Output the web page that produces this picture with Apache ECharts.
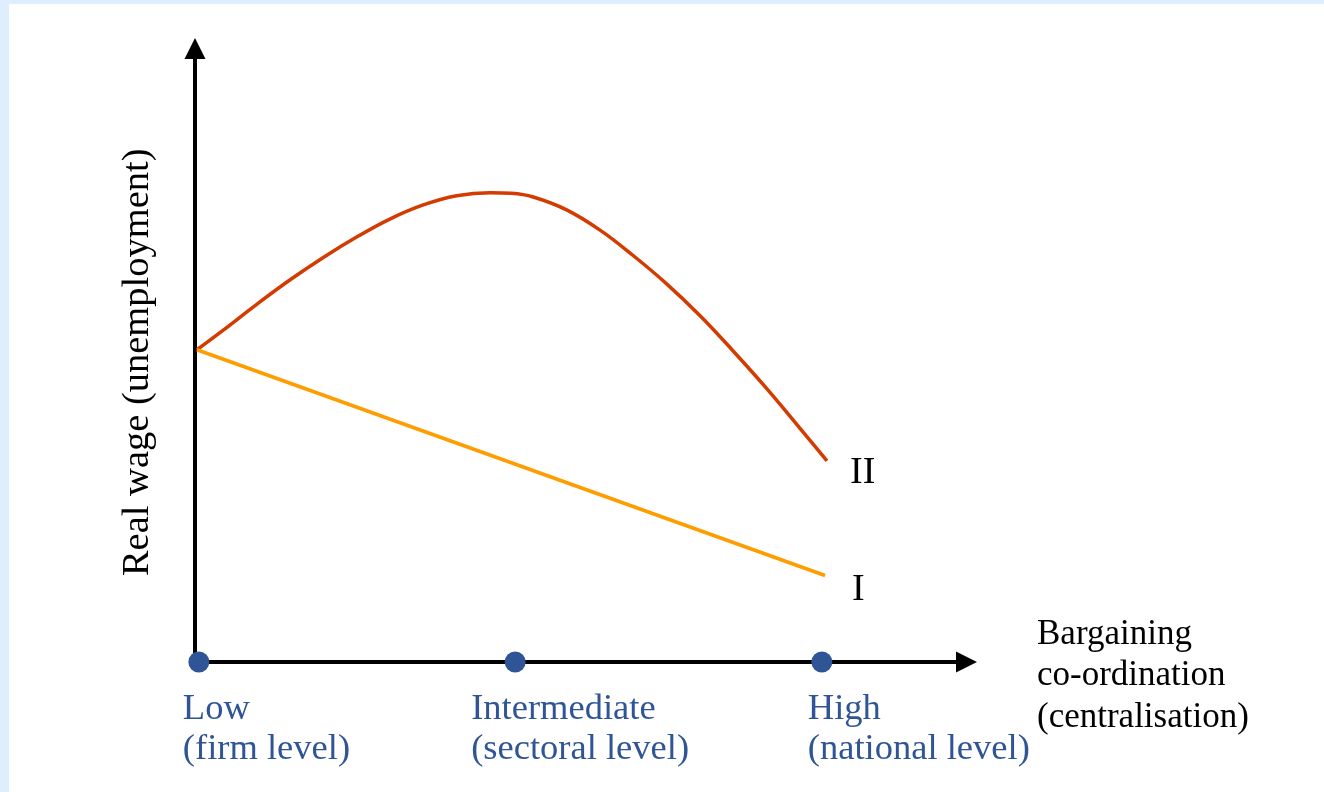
<!DOCTYPE html>
<html><head><meta charset="utf-8">
<script src="https://cdn.jsdelivr.net/npm/echarts@6/dist/echarts.min.js"></script>
<style>
html,body{margin:0;padding:0;background:#dfeefd;width:1324px;height:792px;overflow:hidden}
#chart{position:absolute;left:9px;top:4px;width:1315px;height:788px;background:#fff}
</style></head><body><div id="chart"></div>
<script>
// ---- data ----
const levelNames = ['Low\n(firm level)', 'Intermediate\n(sectoral level)', 'High\n(national level)'];
const levelX = [0.06, 4.98, 9.75];
const curveIIx = [0.03, 0.44, 0.96, 1.48, 1.99, 2.52, 3.03, 3.55, 4.07, 4.59, 4.92, 5.26, 5.78, 6.30, 6.81, 7.34, 7.86, 8.37, 8.89, 9.41, 9.83];
const curveIIy = [5.09, 5.41, 5.83, 6.23, 6.59, 6.93, 7.22, 7.45, 7.60, 7.65, 7.64, 7.58, 7.37, 7.04, 6.63, 6.16, 5.64, 5.07, 4.46, 3.81, 3.28];
const lineIx = [0.03, 9.80];
const lineIy = [5.09, 1.41];
const seriesNames = ['II', 'I'];
const xAxisName = 'Bargaining\nco-ordination\n(centralisation)';
const yAxisName = 'Real wage (unemployment)';

// ---- layout / style ----
const FONT = '"Liberation Serif", "Times New Roman", serif';
const BLUE = '#2f5597';
const labelOffsets = [[-5.5, 38], [-33.5, 38], [-3.5, 38]];

const chart = echarts.init(document.getElementById('chart'));
const axisLineCfg = {show: true, lineStyle: {color: '#000', width: 4}, symbol: ['none', 'triangle'], symbolSize: [21, 21]};

chart.setOption({
  animation: false,
  grid: {left: 186, right: 357.5, top: 44.5, bottom: 130, containLabel: false},
  xAxis: {
    type: 'value', min: 0, max: 12,
    axisLine: axisLineCfg, axisTick: {show: false}, axisLabel: {show: false}, splitLine: {show: false},
    name: '{gap| }\n' + xAxisName, nameLocation: 'end', nameGap: 70.5,
    nameTextStyle: {fontFamily: FONT, fontSize: 35, lineHeight: 41.5, color: '#000', align: 'left',
                    rich: {gap: {fontSize: 10, lineHeight: 28}}}
  },
  yAxis: {
    type: 'value', min: 0, max: 10,
    axisLine: axisLineCfg, axisTick: {show: false}, axisLabel: {show: false}, splitLine: {show: false},
    name: yAxisName, nameLocation: 'middle', nameGap: 38, nameRotate: 90,
    nameTextStyle: {fontFamily: FONT, fontSize: 38.5, color: '#000', padding: [0, 14, 0, 0]}
  },
  series: [
    {
      name: seriesNames[0], type: 'line', smooth: 0.4, symbol: 'none', z: 3,
      data: curveIIx.map((x, i) => [x, curveIIy[i]]),
      lineStyle: {color: '#d33b00', width: 3.5},
      endLabel: {show: true, formatter: seriesNames[0], distance: 0, offset: [23, 12], fontFamily: FONT, fontSize: 38, color: '#000'}
    },
    {
      name: seriesNames[1], type: 'line', symbol: 'none', z: 3,
      data: lineIx.map((x, i) => [x, lineIy[i]]),
      lineStyle: {color: '#ff9c00', width: 3.5},
      endLabel: {show: true, formatter: seriesNames[1], distance: 0, offset: [27, 15], fontFamily: FONT, fontSize: 38, color: '#000'}
    },
    {
      type: 'scatter', symbol: 'circle', symbolSize: 21, z: 5,
      itemStyle: {color: BLUE, opacity: 1},
      data: levelX.map((x, i) => ({
        value: [x, 0], name: levelNames[i],
        label: {show: true, position: labelOffsets[i], formatter: levelNames[i], align: 'left', verticalAlign: 'top',
                fontFamily: FONT, fontSize: 36.5, lineHeight: 40, color: BLUE, opacity: 1}
      }))
    }
  ]
});
</script></body></html>
